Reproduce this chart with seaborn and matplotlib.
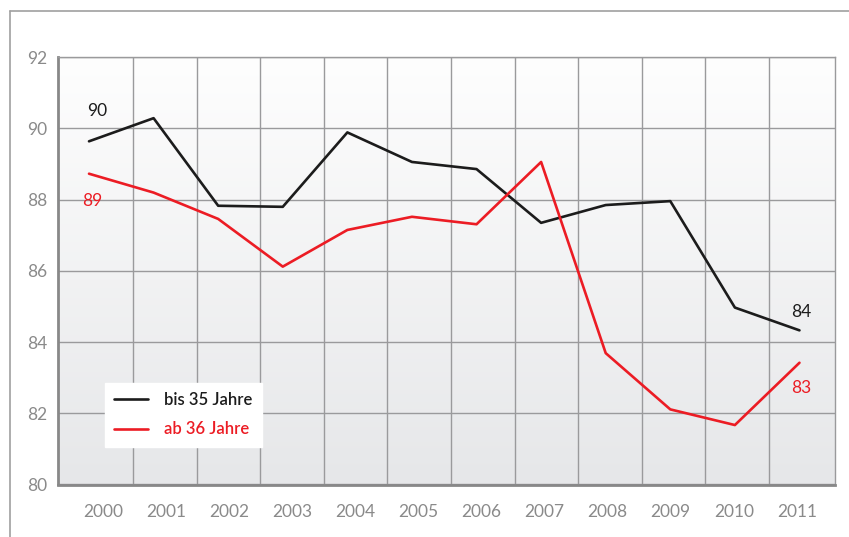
import matplotlib.pyplot as plt
import seaborn as sns
import numpy as np
import pandas as pd
from matplotlib.colors import LinearSegmentedColormap
from matplotlib.lines import Line2D

# Data
years = [2000, 2001, 2002, 2003, 2004, 2005, 2006, 2007, 2008, 2009, 2010, 2011]
bis_35 = [89.64, 90.29, 87.83, 87.80, 89.89, 89.06, 88.86, 87.35, 87.85, 87.96, 84.97, 84.33]
ab_36 = [88.73, 88.20, 87.46, 86.12, 87.15, 87.52, 87.31, 89.06, 83.69, 82.11, 81.67, 83.42]
series_names = ['bis 35 Jahre', 'ab 36 Jahre']
y_ticks = [80, 82, 84, 86, 88, 90, 92]

black = '#1c1c1c'
red = '#ec1c24'
grey_text = '#8a8a8a'
grid_col = '#9a9a9c'

df = pd.DataFrame({'pos': np.arange(len(years)), series_names[0]: bis_35, series_names[1]: ab_36})
long_df = df.melt(id_vars='pos', var_name='Gruppe', value_name='Wert')

sns.set_style('white')
plt.rcParams['font.family'] = ['Lato', 'DejaVu Sans']

fig = plt.figure(figsize=(8.49, 5.37), dpi=100)
W, H = 849, 537
ax = fig.add_axes([58 / W, 1 - 484.5 / H, (835 - 58) / W, (484.5 - 57.3) / H])

sns.lineplot(data=long_df, x='pos', y='Wert', hue='Gruppe',
             palette={series_names[0]: black, series_names[1]: red},
             linewidth=1.9, ax=ax, legend=False, zorder=3)

xlim = (-0.48, 11.55)
ylim = (80, 92)
ax.set_xlim(*xlim)
ax.set_ylim(*ylim)

# gradient background
cmap = LinearSegmentedColormap.from_list('bg', ['#e6e7e9', '#fefefe'])
grad = np.linspace(0, 1, 256).reshape(-1, 1)
ax.imshow(grad, extent=[xlim[0], xlim[1], ylim[0], ylim[1]], origin='lower',
          aspect='auto', cmap=cmap, zorder=0)

# ticks and grid
label_pos = np.linspace(0.22, 10.96, len(years))
grid_pos = np.linspace(0.68, 10.53, len(years) - 1)
ax.set_xticks(label_pos)
ax.set_xticklabels([str(y) for y in years])
ax.set_xticks(grid_pos, minor=True)
ax.set_yticks(y_ticks)
ax.set_yticklabels([str(v) for v in y_ticks])
ax.tick_params(axis='both', which='both', length=0, labelsize=12.5, labelcolor=grey_text)
ax.tick_params(axis='x', pad=14)
ax.tick_params(axis='y', pad=8)
ax.grid(which='minor', axis='x', color=grid_col, linewidth=1.0, zorder=1)
ax.grid(which='major', axis='y', color=grid_col, linewidth=1.0, zorder=1)
ax.grid(which='major', axis='x', visible=False)
ax.set_axisbelow(True)
ax.set_xlabel('')
ax.set_ylabel('')

for side in ['top', 'right']:
    ax.spines[side].set_color(grid_col)
    ax.spines[side].set_linewidth(1.0)
for side in ['left', 'bottom']:
    ax.spines[side].set_color('#888888')
    ax.spines[side].set_linewidth(2.0)

# value labels at first and last year
ax.annotate(f'{round(bis_35[0])}', xy=(0, bis_35[0]), xytext=(5.8, 21.8), textcoords='offset points',
            ha='center', va='center', fontsize=12.5, color=black)
ax.annotate(f'{round(ab_36[0])}', xy=(0, ab_36[0]), xytext=(2, -20), textcoords='offset points',
            ha='center', va='center', fontsize=12.5, color=red)
ax.annotate(f'{round(bis_35[-1])}', xy=(11, bis_35[-1]), xytext=(1.5, 13), textcoords='offset points',
            ha='center', va='center', fontsize=12.5, color=black)
ax.annotate(f'{round(ab_36[-1])}', xy=(11, ab_36[-1]), xytext=(1, -18), textcoords='offset points',
            ha='center', va='center', fontsize=12.5, color=red)

# legend
handles = [Line2D([0], [0], color=black, linewidth=1.9),
           Line2D([0], [0], color=red, linewidth=1.9)]
leg = ax.legend(handles, series_names, loc='upper left',
                bbox_to_anchor=(105 / W, 1 - 383 / H), bbox_transform=fig.transFigure,
                frameon=True, fancybox=False, facecolor='white', edgecolor='white', framealpha=1,
                fontsize=12, handlelength=2.0, handletextpad=1.0, labelspacing=0.8,
                borderpad=0.55, borderaxespad=0,
                prop={'family': ['Lato', 'DejaVu Sans'], 'weight': 'semibold', 'size': 12})
leg.set_zorder(5)
for txt, col in zip(leg.get_texts(), [black, red]):
    txt.set_color(col)

# outer frame lines
fig.add_artist(Line2D([10 / W, 10 / W], [0, 1 - 11 / H], transform=fig.transFigure,
                      color='#a0a0a0', linewidth=1.2))
fig.add_artist(Line2D([10 / W, 1], [1 - 11 / H, 1 - 11 / H], transform=fig.transFigure,
                      color='#a0a0a0', linewidth=1.2))

fig.savefig('out.png', dpi=100)
